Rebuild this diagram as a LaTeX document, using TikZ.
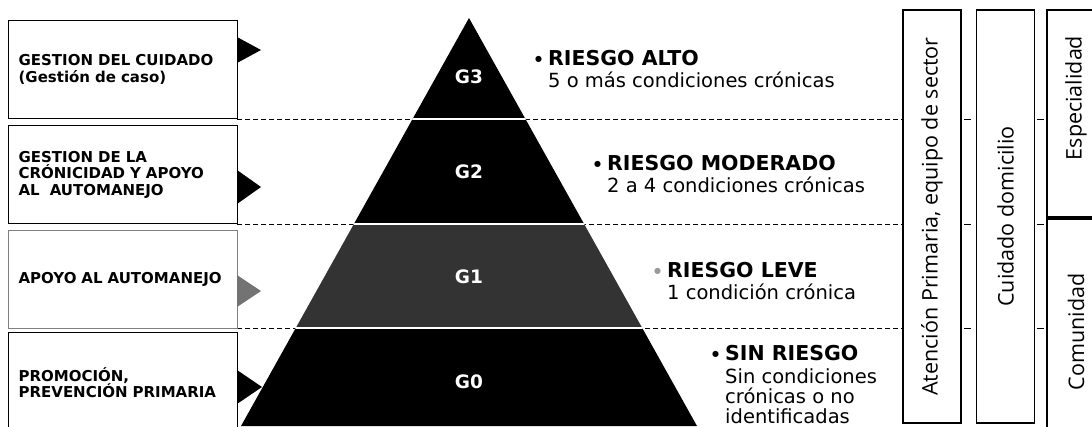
\documentclass[tikz,border=0pt]{standalone}
\usepackage{fontspec}
\setmainfont{DejaVu Sans}
\newfontfamily\vfont{Open Sans}
\usetikzlibrary{positioning}

\tikzset{
  lbox/.style={draw, line width=1.2pt, anchor=north west, minimum width=229pt,
    text width=209pt, inner xsep=10pt, align=left,
    font=\fontsize{15}{16.5}\selectfont\bfseries},
  vbox/.style={draw, fill=white, line width=1.2pt, rotate=90, minimum height=58pt,
    minimum width=413pt, font=\vfont\fontsize{21.5}{24}\selectfont},
  vlabel/.style={rotate=90, font=\vfont\fontsize{21.5}{24}\selectfont},
  nivel/.style={text=white, font=\fontsize{18.5}{18.5}\selectfont\bfseries},
  riesgo/.style={anchor=north west, inner sep=0pt, align=left,
    font=\fontsize{19.5}{22.5}\selectfont},
  sep/.style={dash pattern=on 5pt off 3pt, line width=0.9pt}
}
\newcommand{\bul}[1][black]{\llap{\textcolor{#1}{\raisebox{3.5pt}{\fontsize{8}{8}\selectfont ●}}\hspace{6pt}}}
\newcommand{\cab}[1]{{\fontsize{20.5}{22.5}\selectfont\bfseries #1}}

\begin{document}
\begin{tikzpicture}[x=1pt,y=-1pt]
  \useasboundingbox (0,0) rectangle (1092,426);
  \clip (0,0) rectangle (1092,426);

  % separadores
  \foreach \y in {119,224,328}{
    \draw[sep] (237,\y) -- (903,\y);
    \draw[line width=0.9pt] (964,\y) -- (971,\y);
    \draw[line width=0.9pt] (1037,\y) -- (1044,\y);
  }

  % cajas izquierdas
  \node[lbox, minimum height=98pt] (gcuidado) at (8,20) {GESTION DEL CUIDADO\\(Gestión de caso)};
  \node[lbox, minimum height=98pt] (gcronic) at (8,125) {GESTION DE LA\\CRÓNICIDAD Y APOYO\\AL\ \ AUTOMANEJO};
  \node[lbox, minimum height=98pt, draw=black!50] (apoyo) at (8,230) {APOYO AL AUTOMANEJO};
  \node[lbox, minimum height=100pt] (promo) at (8,332) {PROMOCIÓN,\\PREVENCIÓN PRIMARIA};

  % flechas
  \fill (237,37) -- (261,50) -- (237,63) -- cycle;
  \fill (237,170) -- (261,187) -- (237,204) -- cycle;
  \fill[black!55] (237,275) -- (261,291) -- (237,307) -- cycle;
  \fill (237,370) -- (262,387) -- (237,404) -- cycle;

  % piramide
  \begin{scope}
    \clip (469,18) -- (241,426) -- (697,426) -- cycle;
    \fill (200,0) rectangle (750,224);
    \fill[black!80] (200,224) rectangle (750,328);
    \fill (200,328) rectangle (750,430);
    \foreach \y in {119,224,328}
      \draw[white, line width=1.5pt] (200,\y) -- (750,\y);
  \end{scope}
  \node[nivel] (g3) at (469,77) {G3};
  \node[nivel] (g2) at (469,172) {G2};
  \node[nivel] (g1) at (469,277) {G1};
  \node[nivel] (g0) at (469,382) {G0};

  % niveles de riesgo
  \node[riesgo] (alto) at (548,50) {\bul\cab{RIESGO ALTO}\\5 o más condiciones crónicas};
  \node[riesgo] (moderado) at (607,155) {\bul\cab{RIESGO MODERADO}\\2 a 4 condiciones crónicas};
  \node[riesgo] (leve) at (667,262) {\bul[black!40]\cab{RIESGO LEVE}\\1 condición crónica};
  \node[riesgo, font=\fontsize{19.5}{20}\selectfont] (sinriesgo) at (725,345)
    {\bul\cab{SIN RIESGO}\\[3pt]Sin condiciones\\crónicas o no\\identificadas};

  % columnas verticales
  \node[vbox] (atencion) at (932,216.5) {Atención Primaria, equipo de sector};
  \node[vbox] (cuidado) at (1005.5,216.5) {Cuidado domicilio};
  \draw[line width=1.2pt] (1100,10) -| (1047,430);
  \draw[line width=4pt] (1047,218) -- (1100,218);
  \node[vlabel] (especialidad) at (1076,98) {Especialidad};
  \node[vlabel] (comunidad) at (1076,332) {Comunidad};
\end{tikzpicture}
\end{document}
